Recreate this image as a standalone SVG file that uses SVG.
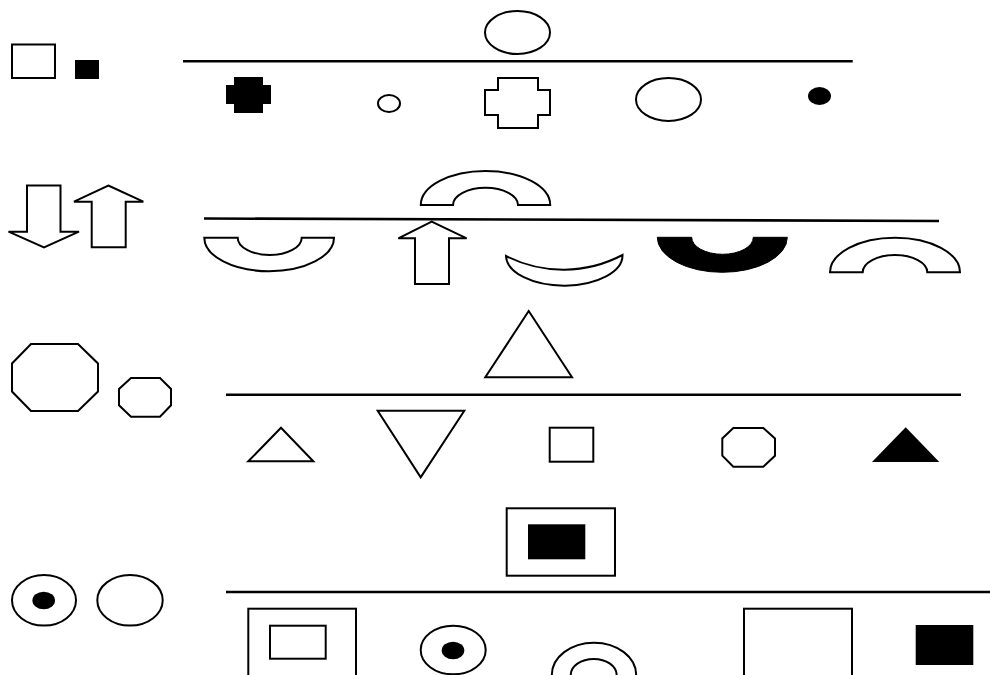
<svg xmlns="http://www.w3.org/2000/svg" width="990" height="675" viewBox="0 0 990 675">
<style>
.o{fill:#fff;stroke:#000;stroke-width:2;stroke-linejoin:miter}
.f{fill:#000;stroke:none}
.fs{fill:#000;stroke:#000;stroke-width:1}
.ln{stroke:#000;stroke-width:2.6;fill:none}
</style>
<rect width="990" height="675" fill="#fff"/>
<g id="lines">
<line class="ln" x1="183" y1="61.3" x2="852.7" y2="61.3"/>
<line class="ln" x1="204" y1="218.5" x2="939" y2="221"/>
<line class="ln" x1="226" y1="394.7" x2="961" y2="394.7"/>
<line class="ln" x1="226" y1="592" x2="990" y2="592"/>
</g>
<!-- Row 1 -->
<g id="r1-rect"><rect class="o" x="12" y="44.5" width="43" height="33.5"/></g>
<g id="r1-sq"><rect class="f" x="75" y="60" width="24" height="19"/></g>
<g id="r1-top-ellipse"><ellipse class="o" cx="517.5" cy="32.5" rx="32.5" ry="21.5"/></g>
<g id="r1-cross-filled"><path class="f" d="M234,77 H263 V85 H271 V104 H263 V113 H234 V104 H226 V85 H234 Z"/></g>
<g id="r1-small-ellipse"><ellipse class="o" cx="389" cy="103.5" rx="11" ry="8.5"/></g>
<g id="r1-cross"><path class="o" d="M498,78 H538 V90 H550 V115 H538 V128 H498 V115 H485 V90 H498 Z"/></g>
<g id="r1-ellipse"><ellipse class="o" cx="668.5" cy="99.5" rx="32.5" ry="21.5"/></g>
<g id="r1-dot"><ellipse class="f" cx="819.5" cy="96" rx="11.5" ry="9"/></g>
<!-- Row 2 -->
<g id="r2-down-arrow"><path class="o" d="M27,185.5 H60.5 V231.7 H79 L44,247.3 L8.5,231.7 H27 Z"/></g>
<g id="r2-up-arrow"><path class="o" d="M108.3,185.5 L143.3,201.7 H125.7 V247.3 H91.7 V201.7 H74 Z"/></g>
<g id="r2-top-arch"><path class="o" d="M420.8,205 A64.7,34 0 0 1 550.2,205 L518,205 A32.5,17.3 0 0 0 453,205 Z"/></g>
<g id="r2-cup"><path class="o" d="M204.3,237.7 A64.8,33.5 0 0 0 334,237.7 L301.7,237.7 A32,17.3 0 0 1 237.7,237.7 Z"/></g>
<g id="r2-up-arrow2"><path class="o" d="M431.7,221.7 L466.7,238.3 H449 V284 H415 V238.3 H398.3 Z"/></g>
<g id="r2-crescent"><path class="o" d="M506,256 A58,30 0 0 0 622.5,255 A127,127 0 0 1 506,256 Z"/></g>
<g id="r2-cup-filled"><path class="fs" d="M657.3,237.3 A65,35 0 0 0 787.3,237.3 L753.3,237.3 A30.8,17 0 0 1 691.7,237.3 Z"/></g>
<g id="r2-arch"><path class="o" d="M830,272.3 A65,34.5 0 0 1 960,272.3 L927.3,272.3 A32.3,17.3 0 0 0 862.7,272.3 Z"/></g>
<!-- Row 3 -->
<g id="r3-oct-big"><polygon class="o" points="31,344 78,344 98,363.5 98,391.5 78,411 31,411 12,391.5 12,363.5"/></g>
<g id="r3-oct-small"><polygon class="o" points="131,378 160,378 171,389 171,405.3 160,416.7 131,416.7 119,405.3 119,389"/></g>
<g id="r3-top-tri"><polygon class="o" points="528.7,311 572,377.3 485.3,377.3"/></g>
<g id="r3-tri-small"><polygon class="o" points="281,427.7 313.3,461.3 248.3,461.3"/></g>
<g id="r3-tri-inv"><polygon class="o" points="377.7,410.7 464.3,410.7 420.7,477.3"/></g>
<g id="r3-square"><rect class="o" x="549.7" y="427.7" width="43.6" height="34"/></g>
<g id="r3-oct"><polygon class="o" points="733.3,428 763.3,428 775,438.5 775,455.7 763.3,466.7 733.3,466.7 722.3,455.7 722.3,438.5"/></g>
<g id="r3-tri-filled"><polygon class="f" points="905.7,427.3 939.3,462 872,462"/></g>
<!-- Row 4 -->
<g id="r4-eye"><ellipse class="o" cx="44" cy="600.3" rx="32" ry="25.3"/><ellipse class="f" cx="43.7" cy="600.5" rx="11.3" ry="8.8"/></g>
<g id="r4-ellipse"><ellipse class="o" cx="130" cy="600.3" rx="32.7" ry="25.3"/></g>
<g id="r4-top-box"><rect class="o" x="506.7" y="508.3" width="108.3" height="67.4"/><rect class="f" x="528" y="524.3" width="57.3" height="35"/></g>
<g id="r4-nested-rect"><rect class="o" x="248.3" y="608.7" width="107.7" height="70"/><rect class="o" x="270" y="625.7" width="55.7" height="33"/></g>
<g id="r4-eye2"><ellipse class="o" cx="453.2" cy="650" rx="32.5" ry="24.3"/><ellipse class="f" cx="453" cy="650.5" rx="11.3" ry="8.8"/></g>
<g id="r4-rings"><ellipse class="o" cx="594" cy="675" rx="42.2" ry="32.3"/><ellipse class="o" cx="593.7" cy="675" rx="23" ry="16"/></g>
<g id="r4-rect"><rect class="o" x="744" y="608.7" width="108" height="70"/></g>
<g id="r4-rect-filled"><rect class="f" x="915.7" y="625" width="57.6" height="40"/></g>
</svg>
